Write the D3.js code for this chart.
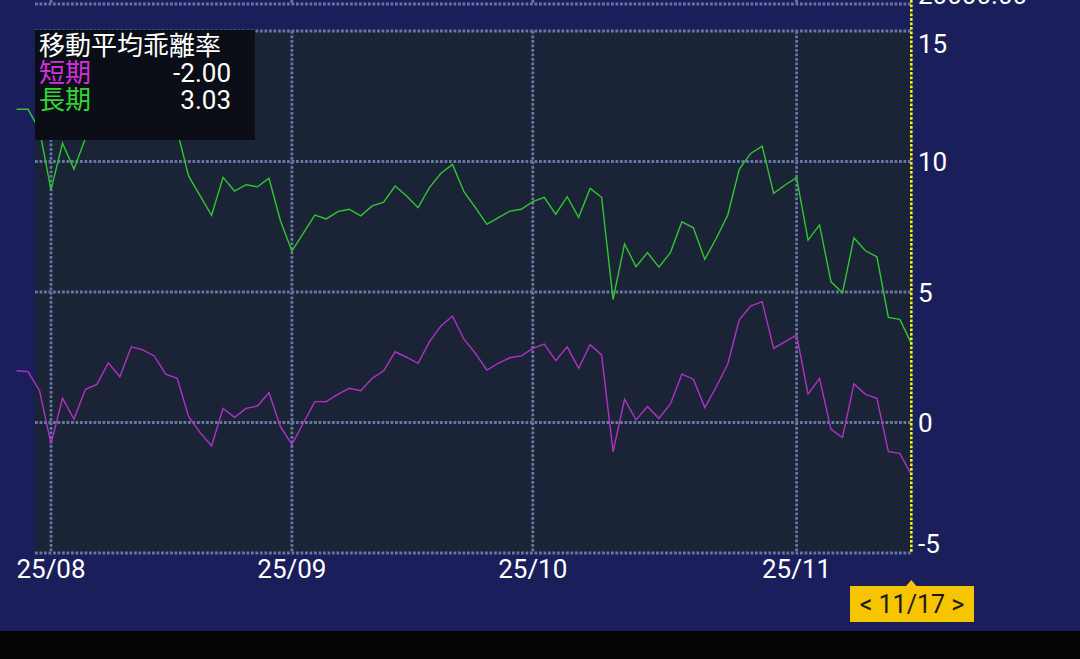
<!DOCTYPE html>
<html><head><meta charset="utf-8">
<script src="https://cdn.jsdelivr.net/npm/d3@7"></script>
<style>
html,body{margin:0;padding:0;background:#1a1f5c;overflow:hidden;}
svg{display:block;}
</style></head>
<body>
<svg id="chart" width="1080" height="659"></svg>
<script>
const dates = [
"2025-07-29","2025-07-30","2025-07-31",
"2025-08-01","2025-08-04","2025-08-05","2025-08-06","2025-08-07","2025-08-08",
"2025-08-11","2025-08-12","2025-08-13","2025-08-14","2025-08-15",
"2025-08-18","2025-08-19","2025-08-20","2025-08-21","2025-08-22",
"2025-08-25","2025-08-26","2025-08-27","2025-08-28","2025-08-29",
"2025-09-02","2025-09-03","2025-09-04","2025-09-05",
"2025-09-08","2025-09-09","2025-09-10","2025-09-11","2025-09-12",
"2025-09-15","2025-09-16","2025-09-17","2025-09-18","2025-09-19",
"2025-09-22","2025-09-23","2025-09-24","2025-09-25","2025-09-26",
"2025-09-29","2025-09-30",
"2025-10-01","2025-10-02","2025-10-03",
"2025-10-06","2025-10-07","2025-10-08","2025-10-09","2025-10-10",
"2025-10-13","2025-10-14","2025-10-15","2025-10-16","2025-10-17",
"2025-10-20","2025-10-21","2025-10-22","2025-10-23","2025-10-24",
"2025-10-27","2025-10-28","2025-10-29","2025-10-30","2025-10-31",
"2025-11-03","2025-11-04","2025-11-05","2025-11-06","2025-11-07",
"2025-11-10","2025-11-11","2025-11-12","2025-11-13","2025-11-14",
"2025-11-17"
];
const shortTerm = [
1.98,1.95,1.22,
-0.82,0.93,0.13,1.27,1.46,2.29,1.75,2.90,2.78,2.55,1.85,1.69,0.22,-0.39,-0.89,0.54,0.20,0.54,0.63,1.14,-0.16,
-0.84,-0.02,0.80,0.80,1.08,1.31,1.22,1.69,1.98,2.71,2.50,2.27,3.10,3.70,4.08,3.19,2.65,2.01,2.27,2.48,2.55,
2.84,3.00,2.37,2.90,2.08,2.98,2.59,-1.12,0.89,0.10,0.61,0.16,0.71,1.85,1.66,0.57,1.37,2.24,3.93,4.46,4.63,2.84,3.10,
3.35,1.09,1.69,-0.26,-0.58,1.48,1.08,0.93,-1.12,-1.18,-2.00
];
const longTerm = [
12.00,12.00,11.21,
8.91,10.70,9.71,10.89,11.05,11.87,11.31,12.55,12.36,12.10,11.33,11.18,9.44,8.68,7.94,9.39,8.87,9.11,9.03,9.36,7.73,
6.57,7.26,7.95,7.80,8.08,8.17,7.92,8.30,8.44,9.06,8.68,8.23,9.01,9.55,9.89,8.84,8.23,7.59,7.85,8.10,8.17,
8.46,8.63,7.98,8.65,7.86,8.97,8.63,4.72,6.84,5.97,6.51,5.95,6.51,7.69,7.46,6.25,7.06,7.95,9.70,10.31,10.59,8.78,9.10,
9.38,6.99,7.57,5.39,4.97,7.08,6.58,6.35,4.03,3.95,3.03
];
const monthTicks = ["2025-08-01","2025-09-02","2025-10-01","2025-11-03"];
const monthLabels = ["25/08","25/09","25/10","25/11"];
const yTicks = [15,10,5,0,-5];
const yTickLabels = ["15","10","5","0","-5"];
const legendTitle = "移動平均乖離率";
const seriesNames = ["短期","長期"];
const cursorLabel = "< 11/17 >";
const upperPanelLabel = "20000.00";

const svg = d3.select("#chart");
const W = 1080, H = 659;
const plot = {left:35, right:911, top:31, bottom:553};
const font = "Roboto, 'Noto Sans', sans-serif";
const cjk = "'Noto Sans CJK JP', 'Noto Sans', sans-serif";
const fmt = d3.formatLocale({decimal:".", thousands:",", grouping:[3], currency:["",""], minus:"-"}).format(".2f");

const x = d3.scalePoint().domain(dates).range([16.6, 911.3]);
const y = d3.scaleLinear().domain([-5, 15]).range([plot.bottom, plot.top]);

// backgrounds
svg.append("rect").attr("x",0).attr("y",0).attr("width",W).attr("height",H).attr("fill","#1a1f5c");
svg.append("rect").attr("x",0).attr("y",631).attr("width",W).attr("height",H-631).attr("fill","#050505");
svg.append("rect").attr("x",plot.left).attr("y",plot.top).attr("width",plot.right-plot.left).attr("height",plot.bottom-plot.top).attr("fill","#1b2437");

const gridColor = "#6576a0";
const dash = "2.8,1.7";
const gw = 2.8;
// upper panel bottom line
svg.append("line").attr("x1",plot.left).attr("x2",plot.right).attr("y1",4).attr("y2",4)
  .attr("stroke",gridColor).attr("stroke-width",gw).attr("stroke-dasharray",dash);
svg.selectAll(".upv").data(monthTicks).join("line")
  .attr("x1",d=>x(d)).attr("x2",d=>x(d)).attr("y1",0).attr("y2",4)
  .attr("stroke",gridColor).attr("stroke-width",gw).attr("stroke-dasharray",dash);

// horizontal grid
svg.selectAll(".hg").data(yTicks).join("line")
  .attr("x1",plot.left).attr("x2",plot.right)
  .attr("y1",d=>y(d)).attr("y2",d=>y(d))
  .attr("stroke",gridColor).attr("stroke-width",gw).attr("stroke-dasharray",dash);
// vertical grid
svg.selectAll(".vg").data(monthTicks).join("line")
  .attr("x1",d=>x(d)).attr("x2",d=>x(d))
  .attr("y1",plot.top).attr("y2",plot.bottom)
  .attr("stroke",gridColor).attr("stroke-width",gw).attr("stroke-dasharray",dash);

// lines
const lineGen = vals => d3.line().x((d,i)=>x(dates[i])).y(d=>y(d))(vals);
svg.append("path").attr("d",lineGen(longTerm)).attr("fill","none").attr("stroke","#2fc62f").attr("stroke-width",1.4);
svg.append("path").attr("d",lineGen(shortTerm)).attr("fill","none").attr("stroke","#b032c4").attr("stroke-width",1.4);

// legend box
svg.append("rect").attr("x",35).attr("y",30).attr("width",220).attr("height",110).attr("fill","#0b0e16");
svg.append("text").attr("x",39).attr("y",55).attr("fill","#ffffff").attr("font-family",cjk).attr("font-size",26).text(legendTitle);
svg.append("text").attr("x",39).attr("y",82).attr("fill","#d231dc").attr("font-family",cjk).attr("font-size",26).text(seriesNames[0]);
svg.append("text").attr("x",39).attr("y",109).attr("fill","#33d633").attr("font-family",cjk).attr("font-size",26).text(seriesNames[1]);
svg.append("text").attr("x",231).attr("y",82).attr("text-anchor","end").attr("fill","#ffffff").attr("font-family",font).attr("font-size",26)
  .text(fmt(shortTerm[shortTerm.length-1]));
svg.append("text").attr("x",231).attr("y",109).attr("text-anchor","end").attr("fill","#ffffff").attr("font-family",font).attr("font-size",26)
  .text(fmt(longTerm[longTerm.length-1]));

// cursor line
const lastX = x(dates[dates.length-1]);
svg.append("line").attr("x1",lastX).attr("x2",lastX).attr("y1",0).attr("y2",plot.bottom)
  .attr("stroke","#f2f21e").attr("stroke-width",2.6).attr("stroke-dasharray","2.8,1.7");

// y axis labels
svg.selectAll(".yl").data(yTicks).join("text")
  .attr("x",918)
  .attr("y",(d,i)=> i===0 ? y(d)+22 : (i===yTicks.length-1 ? y(d)+0 : y(d)+9.5))
  .attr("fill","#ffffff").attr("font-family",font).attr("font-size",26)
  .text((d,i)=>yTickLabels[i]);
svg.append("text").attr("x",918).attr("y",4).attr("fill","#ffffff").attr("font-family",font).attr("font-size",26).text(upperPanelLabel);

// x axis labels
svg.selectAll(".xl").data(monthTicks).join("text")
  .attr("x",d=>x(d)).attr("y",578).attr("text-anchor","middle")
  .attr("fill","#ffffff").attr("font-family",font).attr("font-size",26)
  .text((d,i)=>monthLabels[i]);

// cursor label
svg.append("path").attr("d",`M${lastX-6},587 L${lastX},580 L${lastX+6},587 Z`).attr("fill","#f7c500");
svg.append("rect").attr("x",850).attr("y",586).attr("width",124).attr("height",36).attr("fill","#f7c500");
svg.append("text").attr("x",912).attr("y",613).attr("text-anchor","middle").attr("fill","#1a1a1a")
  .attr("font-family",font).attr("font-size",25).text(cursorLabel);
</script>
</body></html>
